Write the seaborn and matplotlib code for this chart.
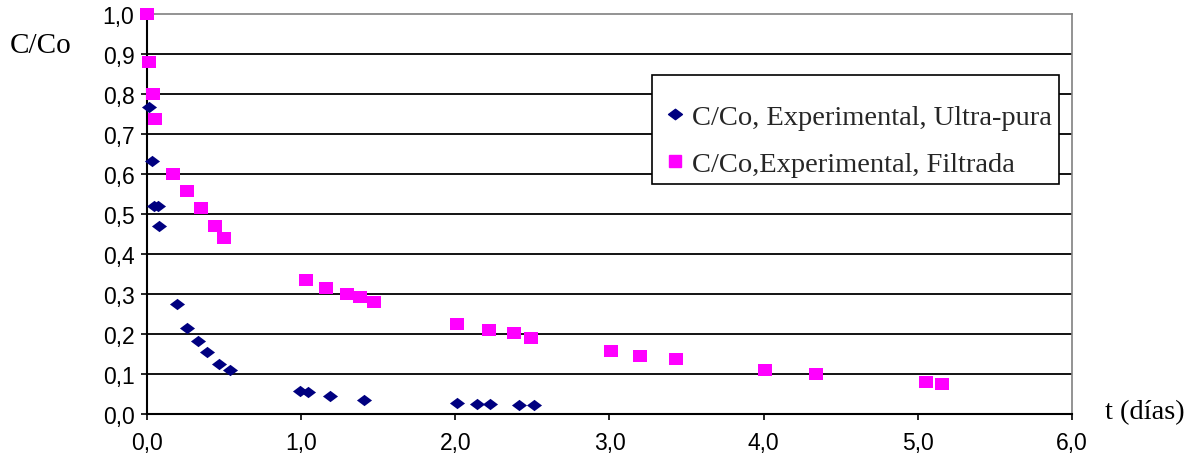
import matplotlib
matplotlib.use("Agg")
import matplotlib.pyplot as plt
import seaborn as sns
import pandas as pd
from matplotlib.path import Path
from matplotlib.lines import Line2D

# Data
t_ultra = [0.016, 0.03, 0.045, 0.07, 0.081, 0.196, 0.261, 0.328, 0.388, 0.466, 0.536,
           0.99, 1.044, 1.185, 1.406, 2.013, 2.143, 2.222, 2.414, 2.51]
c_ultra = [0.767, 0.633, 0.519, 0.519, 0.471, 0.274, 0.216, 0.182, 0.154, 0.126, 0.111,
           0.057, 0.055, 0.046, 0.036, 0.028, 0.025, 0.025, 0.023, 0.023]

t_filt = [0.0, 0.01, 0.042, 0.055, 0.17, 0.261, 0.352, 0.443, 0.497,
          1.029, 1.158, 1.299, 1.38, 1.47, 2.013, 2.216, 2.38, 2.49,
          3.008, 3.198, 3.43, 4.01, 4.34, 5.05, 5.157]
c_filt = [1.0, 0.881, 0.80, 0.7375, 0.60, 0.5575, 0.515, 0.471, 0.44,
          0.336, 0.315, 0.30, 0.293, 0.281, 0.225, 0.21, 0.2025, 0.19,
          0.1575, 0.145, 0.1375, 0.11, 0.10, 0.081, 0.075]

label_ultra = "C/Co, Experimental, Ultra-pura"
label_filt = "C/Co,Experimental, Filtrada"
x_ticks = [0, 1, 2, 3, 4, 5, 6]
y_ticks = [0.0, 0.1, 0.2, 0.3, 0.4, 0.5, 0.6, 0.7, 0.8, 0.9, 1.0]

col_ultra = "#000080"
col_filt = "#FF00FF"

df = pd.concat([
    pd.DataFrame({"t": t_ultra, "c": c_ultra, "serie": label_ultra}),
    pd.DataFrame({"t": t_filt, "c": c_filt, "serie": label_filt}),
])

sns.set_theme(style="white")
plt.rcParams["font.family"] = ["Liberation Sans", "DejaVu Sans"]

fig = plt.figure(figsize=(12, 4.6), dpi=100)
ax = fig.add_axes([0.1225, 0.0978, 0.7708, 0.8696])

diamond = Path([(-1, 0), (0, 0.75), (1, 0), (0, -0.75), (-1, 0)],
               [Path.MOVETO, Path.LINETO, Path.LINETO, Path.LINETO, Path.CLOSEPOLY])
rect = Path([(-1, -0.8), (1, -0.8), (1, 0.8), (-1, 0.8), (-1, -0.8)],
            [Path.MOVETO, Path.LINETO, Path.LINETO, Path.LINETO, Path.CLOSEPOLY])

sns.scatterplot(data=df[df.serie == label_ultra], x="t", y="c", ax=ax,
                color=col_ultra, marker=diamond, s=118, linewidth=0, legend=False,
                zorder=3, clip_on=False)
sns.scatterplot(data=df[df.serie == label_filt], x="t", y="c", ax=ax,
                color=col_filt, marker=rect, s=100, linewidth=0, legend=False,
                zorder=3, clip_on=False)

ax.set_xlim(0, 6)
ax.set_ylim(0, 1.0)
ax.set_xticks(x_ticks)
ax.set_xticklabels([f"{v:.1f}".replace(".", ",") for v in x_ticks], fontsize=16.5)
ax.set_yticks(y_ticks)
ax.set_yticklabels([f"{v:.1f}".replace(".", ",") for v in y_ticks], fontsize=16.5)
ax.set_xlabel("")
ax.set_ylabel("")
ax.tick_params(axis="both", direction="out", length=4, width=1.2, color="black",
               bottom=True, left=True, labelcolor="black")
ax.tick_params(axis="x", pad=8)
ax.tick_params(axis="y", pad=5)

for yv in y_ticks[1:-1]:
    ax.axhline(yv, color="black", lw=1.3, zorder=1)

for s in ["top", "right"]:
    ax.spines[s].set_visible(True)
    ax.spines[s].set_color("#808080")
    ax.spines[s].set_linewidth(1.2)
for s in ["left", "bottom"]:
    ax.spines[s].set_color("black")
    ax.spines[s].set_linewidth(1.5)

fig.text(0.008, 0.885, "C/Co", fontsize=21, family="Liberation Serif", color="black",
         va="baseline")
fig.text(0.921, 0.088, "t (días)", fontsize=20.5, family="Liberation Serif", color="black",
         va="baseline")

handles = [
    Line2D([], [], marker=diamond, color=col_ultra, lw=0, markersize=10),
    Line2D([], [], marker="s", color=col_filt, lw=0, markersize=8.5),
]
leg = ax.legend(handles, [label_ultra, label_filt], loc="upper left",
                bbox_to_anchor=(0.546, 0.8475), frameon=True, fancybox=False,
                edgecolor="black", framealpha=1, borderpad=0.27, labelspacing=0.72,
                handletextpad=0.07, handlelength=1.05, borderaxespad=0,
                title=" ", title_fontsize=1,
                prop={"family": "Liberation Serif", "size": 20.5})
leg.get_frame().set_linewidth(1.2)

fig.savefig("out.png", dpi=100)
